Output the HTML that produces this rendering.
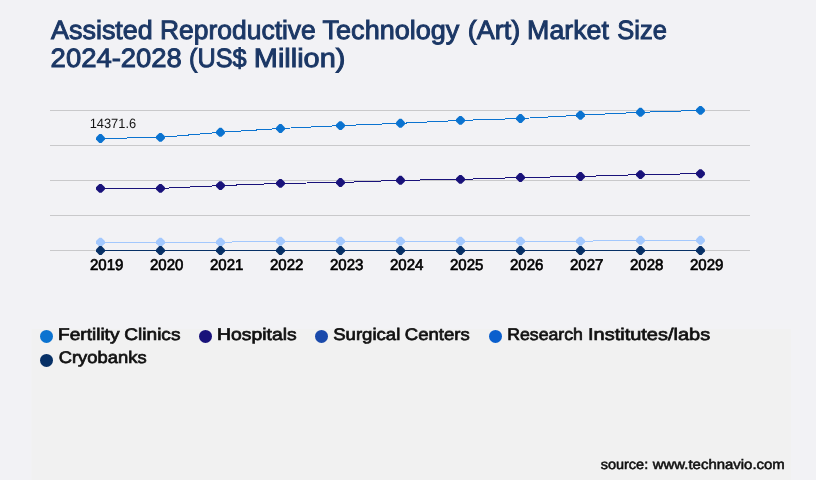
<!DOCTYPE html>
<html><head><meta charset="utf-8"><title>Assisted Reproductive Technology (Art) Market Size</title>
<style>
html,body{margin:0;padding:0;background:#f2f2f5;}
body{width:816px;height:480px;overflow:hidden;font-family:"Liberation Sans",sans-serif;}
svg{display:block}
svg text{font-family:"Liberation Sans",sans-serif;white-space:pre;text-rendering:geometricPrecision;}
.title{font-size:26.4px;fill:#1b3765;stroke:#1b3765;stroke-width:0.95px;}
.yr{font-size:15.5px;fill:#000;stroke:#000;stroke-width:0.65px;}
.lg{font-size:16.8px;fill:#111;stroke:#111;stroke-width:0.7px;}
.src{font-size:13.7px;fill:#111;stroke:#111;stroke-width:0.55px;}
.val{font-size:13.5px;fill:#151515;}
</style></head><body>
<svg width="816" height="480" viewBox="0 0 816 480">
<rect x="0" y="0" width="816" height="480" fill="#f2f2f5"/>
<rect x="31.5" y="329" width="759.5" height="151" fill="#f1f1f1"/>
<g class="title">
<text y="38.9"><tspan x="51.08" textLength="101.69" lengthAdjust="spacingAndGlyphs">Assisted</tspan> <tspan x="159.98" textLength="155.82" lengthAdjust="spacingAndGlyphs">Reproductive</tspan> <tspan x="322.58" textLength="136.75" lengthAdjust="spacingAndGlyphs">Technology</tspan> <tspan x="467.74" textLength="52.44" lengthAdjust="spacingAndGlyphs">(Art)</tspan> <tspan x="527.09" textLength="81.84" lengthAdjust="spacingAndGlyphs">Market</tspan> <tspan x="617.32" textLength="49.58" lengthAdjust="spacingAndGlyphs">Size</tspan></text>
<text y="67.0"><tspan x="50.64" textLength="131.26" lengthAdjust="spacingAndGlyphs">2024-2028</tspan> <tspan x="188.99" textLength="57.63" lengthAdjust="spacingAndGlyphs">(US$</tspan> <tspan x="253.82" textLength="91.52" lengthAdjust="spacingAndGlyphs">Million)</tspan></text>
</g>
<rect x="50" y="110" width="700" height="1" fill="#c9c9cb"/>
<rect x="50" y="145" width="700" height="1" fill="#c9c9cb"/>
<rect x="50" y="180" width="700" height="1" fill="#c9c9cb"/>
<rect x="50" y="215" width="700" height="1" fill="#c9c9cb"/>
<rect x="50" y="250" width="700" height="1" fill="#c9c9cb"/>

<polyline points="100.5,242.2 160.4,242.2 220.4,242.2 280.4,241.2 340.4,241.2 400.4,241.2 460.4,241.2 520.5,241.2 580.5,241.2 640.5,240.3 700.5,240.3" fill="none" stroke="#a3c8fd" stroke-width="1" shape-rendering="crispEdges"/>
<path d="M99.35 237.75H101.55L104.90 241.10V243.30L101.55 246.65H99.35L96.00 243.30V241.10Z" fill="#a3c8fd"/>
<path d="M159.35 237.75H161.55L164.90 241.10V243.30L161.55 246.65H159.35L156.00 243.30V241.10Z" fill="#a3c8fd"/>
<path d="M219.35 237.75H221.55L224.90 241.10V243.30L221.55 246.65H219.35L216.00 243.30V241.10Z" fill="#a3c8fd"/>
<path d="M279.35 236.75H281.55L284.90 240.10V242.30L281.55 245.65H279.35L276.00 242.30V240.10Z" fill="#a3c8fd"/>
<path d="M339.35 236.75H341.55L344.90 240.10V242.30L341.55 245.65H339.35L336.00 242.30V240.10Z" fill="#a3c8fd"/>
<path d="M399.35 236.75H401.55L404.90 240.10V242.30L401.55 245.65H399.35L396.00 242.30V240.10Z" fill="#a3c8fd"/>
<path d="M459.35 236.75H461.55L464.90 240.10V242.30L461.55 245.65H459.35L456.00 242.30V240.10Z" fill="#a3c8fd"/>
<path d="M519.35 236.75H521.55L524.90 240.10V242.30L521.55 245.65H519.35L516.00 242.30V240.10Z" fill="#a3c8fd"/>
<path d="M579.35 236.75H581.55L584.90 240.10V242.30L581.55 245.65H579.35L576.00 242.30V240.10Z" fill="#a3c8fd"/>
<path d="M639.35 235.85H641.55L644.90 239.20V241.40L641.55 244.75H639.35L636.00 241.40V239.20Z" fill="#a3c8fd"/>
<path d="M699.35 235.85H701.55L704.90 239.20V241.40L701.55 244.75H699.35L696.00 241.40V239.20Z" fill="#a3c8fd"/>

<polyline points="100.5,250.5 160.4,250.5 220.4,250.5 280.4,250.5 340.4,250.5 400.4,250.5 460.4,250.5 520.5,250.5 580.5,250.5 640.5,250.5 700.5,250.5" fill="none" stroke="#073066" stroke-width="1" shape-rendering="crispEdges"/>
<path d="M99.35 246.05H101.55L104.90 249.40V251.60L101.55 254.95H99.35L96.00 251.60V249.40Z" fill="#073066"/>
<path d="M159.35 246.05H161.55L164.90 249.40V251.60L161.55 254.95H159.35L156.00 251.60V249.40Z" fill="#073066"/>
<path d="M219.35 246.05H221.55L224.90 249.40V251.60L221.55 254.95H219.35L216.00 251.60V249.40Z" fill="#073066"/>
<path d="M279.35 246.05H281.55L284.90 249.40V251.60L281.55 254.95H279.35L276.00 251.60V249.40Z" fill="#073066"/>
<path d="M339.35 246.05H341.55L344.90 249.40V251.60L341.55 254.95H339.35L336.00 251.60V249.40Z" fill="#073066"/>
<path d="M399.35 246.05H401.55L404.90 249.40V251.60L401.55 254.95H399.35L396.00 251.60V249.40Z" fill="#073066"/>
<path d="M459.35 246.05H461.55L464.90 249.40V251.60L461.55 254.95H459.35L456.00 251.60V249.40Z" fill="#073066"/>
<path d="M519.35 246.05H521.55L524.90 249.40V251.60L521.55 254.95H519.35L516.00 251.60V249.40Z" fill="#073066"/>
<path d="M579.35 246.05H581.55L584.90 249.40V251.60L581.55 254.95H579.35L576.00 251.60V249.40Z" fill="#073066"/>
<path d="M639.35 246.05H641.55L644.90 249.40V251.60L641.55 254.95H639.35L636.00 251.60V249.40Z" fill="#073066"/>
<path d="M699.35 246.05H701.55L704.90 249.40V251.60L701.55 254.95H699.35L696.00 251.60V249.40Z" fill="#073066"/>

<polyline points="100.5,188.4 160.4,188.4 220.4,185.6 280.4,183.4 340.4,182.5 400.4,180.3 460.4,179.4 520.5,177.5 580.5,176.5 640.5,174.6 700.5,173.7" fill="none" stroke="#19127a" stroke-width="1" shape-rendering="crispEdges"/>
<path d="M99.35 183.95H101.55L104.90 187.30V189.50L101.55 192.85H99.35L96.00 189.50V187.30Z" fill="#19127a"/>
<path d="M159.35 183.95H161.55L164.90 187.30V189.50L161.55 192.85H159.35L156.00 189.50V187.30Z" fill="#19127a"/>
<path d="M219.35 181.15H221.55L224.90 184.50V186.70L221.55 190.05H219.35L216.00 186.70V184.50Z" fill="#19127a"/>
<path d="M279.35 178.95H281.55L284.90 182.30V184.50L281.55 187.85H279.35L276.00 184.50V182.30Z" fill="#19127a"/>
<path d="M339.35 178.05H341.55L344.90 181.40V183.60L341.55 186.95H339.35L336.00 183.60V181.40Z" fill="#19127a"/>
<path d="M399.35 175.85H401.55L404.90 179.20V181.40L401.55 184.75H399.35L396.00 181.40V179.20Z" fill="#19127a"/>
<path d="M459.35 174.95H461.55L464.90 178.30V180.50L461.55 183.85H459.35L456.00 180.50V178.30Z" fill="#19127a"/>
<path d="M519.35 173.05H521.55L524.90 176.40V178.60L521.55 181.95H519.35L516.00 178.60V176.40Z" fill="#19127a"/>
<path d="M579.35 172.05H581.55L584.90 175.40V177.60L581.55 180.95H579.35L576.00 177.60V175.40Z" fill="#19127a"/>
<path d="M639.35 170.15H641.55L644.90 173.50V175.70L641.55 179.05H639.35L636.00 175.70V173.50Z" fill="#19127a"/>
<path d="M699.35 169.25H701.55L704.90 172.60V174.80L701.55 178.15H699.35L696.00 174.80V172.60Z" fill="#19127a"/>

<polyline points="100.5,138.5 160.4,137.4 220.4,132.3 280.4,128.5 340.4,125.6 400.4,123.3 460.4,120.4 520.5,118.5 580.5,115.2 640.5,112.3 700.5,110.4" fill="none" stroke="#0b73d0" stroke-width="1" shape-rendering="crispEdges"/>
<path d="M99.35 134.05H101.55L104.90 137.40V139.60L101.55 142.95H99.35L96.00 139.60V137.40Z" fill="#0b73d0"/>
<path d="M159.35 132.95H161.55L164.90 136.30V138.50L161.55 141.85H159.35L156.00 138.50V136.30Z" fill="#0b73d0"/>
<path d="M219.35 127.85H221.55L224.90 131.20V133.40L221.55 136.75H219.35L216.00 133.40V131.20Z" fill="#0b73d0"/>
<path d="M279.35 124.05H281.55L284.90 127.40V129.60L281.55 132.95H279.35L276.00 129.60V127.40Z" fill="#0b73d0"/>
<path d="M339.35 121.15H341.55L344.90 124.50V126.70L341.55 130.05H339.35L336.00 126.70V124.50Z" fill="#0b73d0"/>
<path d="M399.35 118.85H401.55L404.90 122.20V124.40L401.55 127.75H399.35L396.00 124.40V122.20Z" fill="#0b73d0"/>
<path d="M459.35 115.95H461.55L464.90 119.30V121.50L461.55 124.85H459.35L456.00 121.50V119.30Z" fill="#0b73d0"/>
<path d="M519.35 114.05H521.55L524.90 117.40V119.60L521.55 122.95H519.35L516.00 119.60V117.40Z" fill="#0b73d0"/>
<path d="M579.35 110.75H581.55L584.90 114.10V116.30L581.55 119.65H579.35L576.00 116.30V114.10Z" fill="#0b73d0"/>
<path d="M639.35 107.85H641.55L644.90 111.20V113.40L641.55 116.75H639.35L636.00 113.40V111.20Z" fill="#0b73d0"/>
<path d="M699.35 105.95H701.55L704.90 109.30V111.50L701.55 114.85H699.35L696.00 111.50V109.30Z" fill="#0b73d0"/>

<g class="val">
<text y="128"><tspan x="89.64" textLength="46.51" lengthAdjust="spacingAndGlyphs">14371.6</tspan></text>
</g>
<g class="yr">
<text y="270.0"><tspan x="89.95" textLength="33.50" lengthAdjust="spacingAndGlyphs">2019</tspan></text>
<text y="270.0"><tspan x="149.95" textLength="33.50" lengthAdjust="spacingAndGlyphs">2020</tspan></text>
<text y="270.0"><tspan x="209.95" textLength="33.50" lengthAdjust="spacingAndGlyphs">2021</tspan></text>
<text y="270.0"><tspan x="269.95" textLength="33.50" lengthAdjust="spacingAndGlyphs">2022</tspan></text>
<text y="270.0"><tspan x="329.95" textLength="33.50" lengthAdjust="spacingAndGlyphs">2023</tspan></text>
<text y="270.0"><tspan x="389.95" textLength="33.50" lengthAdjust="spacingAndGlyphs">2024</tspan></text>
<text y="270.0"><tspan x="449.95" textLength="33.50" lengthAdjust="spacingAndGlyphs">2025</tspan></text>
<text y="270.0"><tspan x="509.95" textLength="33.50" lengthAdjust="spacingAndGlyphs">2026</tspan></text>
<text y="270.0"><tspan x="569.95" textLength="33.50" lengthAdjust="spacingAndGlyphs">2027</tspan></text>
<text y="270.0"><tspan x="629.95" textLength="33.50" lengthAdjust="spacingAndGlyphs">2028</tspan></text>
<text y="270.0"><tspan x="689.95" textLength="33.50" lengthAdjust="spacingAndGlyphs">2029</tspan></text>
</g>
<g>
<circle cx="46.5" cy="336.4" r="6.5" fill="#0b73d0"/>
<circle cx="205.5" cy="336.4" r="6.5" fill="#19127a"/>
<circle cx="321.5" cy="336.4" r="6.5" fill="#1a4aab"/>
<circle cx="495.5" cy="336.4" r="6.5" fill="#0a5fcd"/>
<circle cx="46.5" cy="360.4" r="6.5" fill="#073066"/>
</g>
<g class="lg">
<text y="339.7"><tspan x="58.10" textLength="61.34" lengthAdjust="spacingAndGlyphs">Fertility</tspan> <tspan x="124.26" textLength="56.21" lengthAdjust="spacingAndGlyphs">Clinics</tspan></text>
<text y="339.7"><tspan x="217.14" textLength="79.60" lengthAdjust="spacingAndGlyphs">Hospitals</tspan></text>
<text y="339.7"><tspan x="333.20" textLength="67.10" lengthAdjust="spacingAndGlyphs">Surgical</tspan> <tspan x="404.76" textLength="64.92" lengthAdjust="spacingAndGlyphs">Centers</tspan></text>
<text y="339.7"><tspan x="507.20" textLength="75.70" lengthAdjust="spacingAndGlyphs">Research</tspan> <tspan x="588.00" textLength="122.12" lengthAdjust="spacingAndGlyphs">Institutes/labs</tspan></text>
<text y="363.2"><tspan x="58.68" textLength="87.93" lengthAdjust="spacingAndGlyphs">Cryobanks</tspan></text>
</g>
<g class="src">
<text y="468.9"><tspan x="600.68" textLength="47.53" lengthAdjust="spacingAndGlyphs">source:</tspan> <tspan x="652.79" textLength="132.03" lengthAdjust="spacingAndGlyphs">www.technavio.com</tspan></text>
</g>
</svg>
</body></html>
